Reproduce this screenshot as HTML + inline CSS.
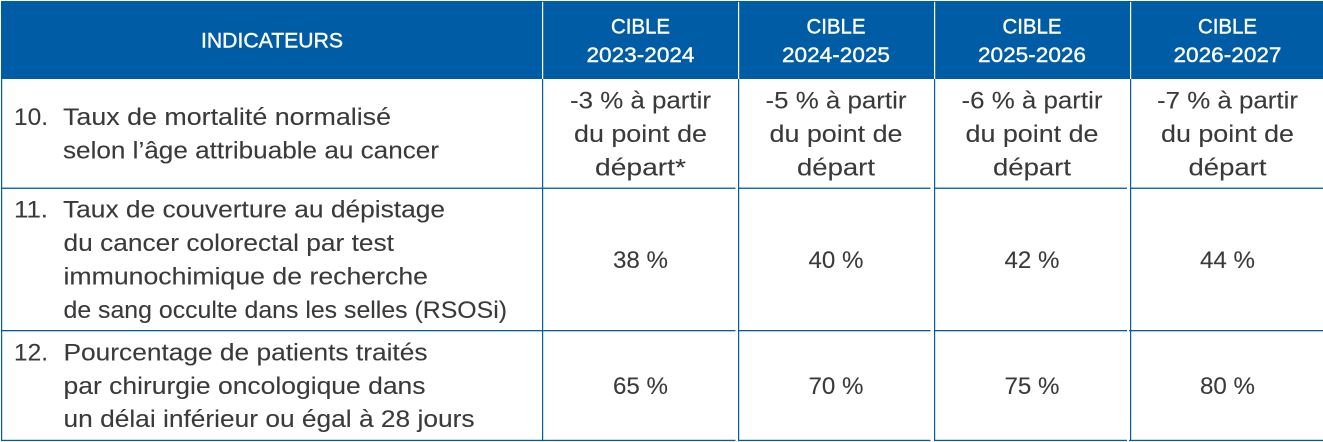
<!DOCTYPE html>
<html lang="fr">
<head>
<meta charset="utf-8">
<title>Indicateurs et cibles</title>
<style>
html,body{margin:0;padding:0;background:#fff;width:1323px;height:442px;overflow:hidden}
svg{display:block}
text{font-family:"Liberation Sans",sans-serif;font-size:24px;fill:#3a3a3a;stroke:#3a3a3a;stroke-width:.1px}
.h{fill:#fff;stroke:#fff;stroke-width:.4px;font-size:21px}
.c{text-anchor:middle}
</style>
</head>
<body>
<svg width="1323" height="442" viewBox="0 0 1323 442">
<rect x="0" y="0" width="1323" height="442" fill="#fff"/>
<rect x="1" y="1" width="1322" height="78" fill="#005ca4"/>

<g fill="#fff">
<rect x="542" y="2" width="1.2" height="77"/>
<rect x="738" y="2" width="1.2" height="77"/>
<rect x="934" y="2" width="1.2" height="77"/>
<rect x="1130" y="2" width="1.2" height="77"/>
</g>

<g fill="#005ca4">
<rect x="1" y="79" width="1.2" height="362"/>
<rect x="542" y="79" width="1.2" height="362"/>
<rect x="738" y="79" width="1.2" height="362"/>
<rect x="934" y="79" width="1.2" height="362"/>
<rect x="1130" y="79" width="1.2" height="362"/>
<rect x="1" y="187.6" width="734.5" height="1.3"/><rect x="738" y="187.6" width="192.5" height="1.3"/><rect x="934" y="187.6" width="193" height="1.3"/><rect x="1130" y="187.6" width="193" height="1.3"/>
<rect x="1" y="330" width="734.5" height="1.3"/><rect x="738" y="330" width="192.5" height="1.3"/><rect x="934" y="330" width="193" height="1.3"/><rect x="1129" y="330" width="194" height="1.3"/>
<rect x="1" y="439.8" width="734.5" height="1.3"/><rect x="738" y="439.8" width="192.5" height="1.3"/><rect x="934" y="439.8" width="193" height="1.3"/><rect x="1129" y="439.8" width="194" height="1.3"/>
</g>

<text class="h c" x="272" y="47.5" textLength="142" lengthAdjust="spacingAndGlyphs">INDICATEURS</text>
<g>
<text class="h c" x="640.5" y="33.5" textLength="59" lengthAdjust="spacingAndGlyphs">CIBLE</text>
<text class="h c" x="640.5" y="62" textLength="108" lengthAdjust="spacingAndGlyphs">2023-2024</text>
</g>
<g>
<text class="h c" x="836" y="33.5" textLength="59" lengthAdjust="spacingAndGlyphs">CIBLE</text>
<text class="h c" x="836" y="62" textLength="108" lengthAdjust="spacingAndGlyphs">2024-2025</text>
</g>
<g>
<text class="h c" x="1032" y="33.5" textLength="59" lengthAdjust="spacingAndGlyphs">CIBLE</text>
<text class="h c" x="1032" y="62" textLength="108" lengthAdjust="spacingAndGlyphs">2025-2026</text>
</g>
<g>
<text class="h c" x="1227.5" y="33.5" textLength="59" lengthAdjust="spacingAndGlyphs">CIBLE</text>
<text class="h c" x="1227.5" y="62" textLength="108" lengthAdjust="spacingAndGlyphs">2026-2027</text>
</g>

<g>
<text x="14" y="125" textLength="34" lengthAdjust="spacingAndGlyphs">10.</text>
<text x="63" y="125" textLength="328" lengthAdjust="spacingAndGlyphs">Taux de mortalité normalisé</text>
<text x="63" y="158.5" textLength="376" lengthAdjust="spacingAndGlyphs">selon l’âge attribuable au cancer</text>
</g>
<g>
<text class="c" x="640.5" y="108.5" textLength="141" lengthAdjust="spacingAndGlyphs">-3 % à partir</text>
<text class="c" x="640.5" y="142" textLength="133" lengthAdjust="spacingAndGlyphs">du point de</text>
<text class="c" x="640.5" y="175.5" textLength="91" lengthAdjust="spacingAndGlyphs">départ*</text>
</g>
<g>
<text class="c" x="836" y="108.5" textLength="141" lengthAdjust="spacingAndGlyphs">-5 % à partir</text>
<text class="c" x="836" y="142" textLength="133" lengthAdjust="spacingAndGlyphs">du point de</text>
<text class="c" x="836" y="175.5" textLength="78" lengthAdjust="spacingAndGlyphs">départ</text>
</g>
<g>
<text class="c" x="1032" y="108.5" textLength="141" lengthAdjust="spacingAndGlyphs">-6 % à partir</text>
<text class="c" x="1032" y="142" textLength="133" lengthAdjust="spacingAndGlyphs">du point de</text>
<text class="c" x="1032" y="175.5" textLength="78" lengthAdjust="spacingAndGlyphs">départ</text>
</g>
<g>
<text class="c" x="1227.5" y="108.5" textLength="141" lengthAdjust="spacingAndGlyphs">-7 % à partir</text>
<text class="c" x="1227.5" y="142" textLength="133" lengthAdjust="spacingAndGlyphs">du point de</text>
<text class="c" x="1227.5" y="175.5" textLength="78" lengthAdjust="spacingAndGlyphs">départ</text>
</g>

<g>
<text x="14" y="217.5" textLength="34" lengthAdjust="spacingAndGlyphs">11.</text>
<text x="63" y="217.5" textLength="382" lengthAdjust="spacingAndGlyphs">Taux de couverture au dépistage</text>
<text x="63.5" y="251" textLength="330.5" lengthAdjust="spacingAndGlyphs">du cancer colorectal par test</text>
<text x="63.5" y="284.5" textLength="364.5" lengthAdjust="spacingAndGlyphs">immunochimique de recherche</text>
<text x="63.5" y="318" textLength="443.5" lengthAdjust="spacingAndGlyphs">de sang occulte dans les selles (RSOSi)</text>
</g>
<text class="c" x="640.5" y="268" textLength="55" lengthAdjust="spacingAndGlyphs">38 %</text>
<text class="c" x="836" y="268" textLength="55" lengthAdjust="spacingAndGlyphs">40 %</text>
<text class="c" x="1032" y="268" textLength="55" lengthAdjust="spacingAndGlyphs">42 %</text>
<text class="c" x="1227.5" y="268" textLength="55" lengthAdjust="spacingAndGlyphs">44 %</text>

<g>
<text x="14" y="360.5" textLength="34" lengthAdjust="spacingAndGlyphs">12.</text>
<text x="63.5" y="360.5" textLength="364" lengthAdjust="spacingAndGlyphs">Pourcentage de patients traités</text>
<text x="63.5" y="394" textLength="362" lengthAdjust="spacingAndGlyphs">par chirurgie oncologique dans</text>
<text x="63.5" y="427" textLength="411" lengthAdjust="spacingAndGlyphs">un délai inférieur ou égal à 28 jours</text>
</g>
<text class="c" x="640.5" y="394" textLength="55" lengthAdjust="spacingAndGlyphs">65 %</text>
<text class="c" x="836" y="394" textLength="55" lengthAdjust="spacingAndGlyphs">70 %</text>
<text class="c" x="1032" y="394" textLength="55" lengthAdjust="spacingAndGlyphs">75 %</text>
<text class="c" x="1227.5" y="394" textLength="55" lengthAdjust="spacingAndGlyphs">80 %</text>
</svg>
</body>
</html>
